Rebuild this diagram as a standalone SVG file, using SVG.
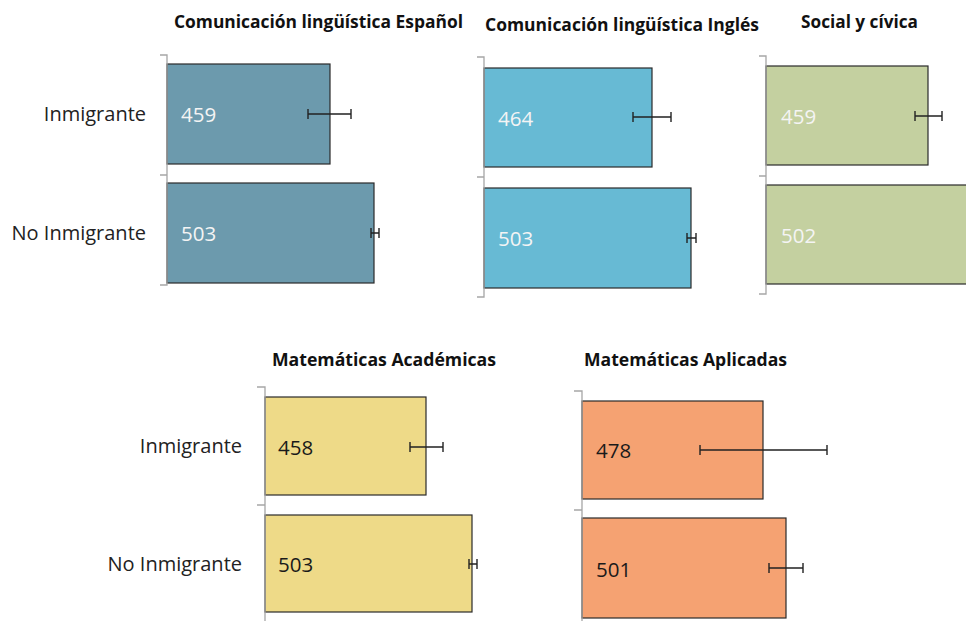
<svg xmlns="http://www.w3.org/2000/svg" width="966" height="621" viewBox="0 0 966 621">
<style>
.title{font-family:"Open Sans","Liberation Sans",sans-serif;font-weight:700;font-size:17.5px;fill:#111}
.cat{font-family:"Open Sans","Liberation Sans",sans-serif;font-size:20px;fill:#222;text-anchor:end}
.val{font-family:"Open Sans","Liberation Sans",sans-serif;font-size:20.5px}
.vl{fill:#f4f4f4}
.vd{fill:#1a1a1a}
.bar{stroke:#2a2a2a;stroke-width:1.2}
.axis{stroke:#a6a6a6;stroke-width:1.3;fill:none}
.err{stroke:#222;stroke-width:1.4;fill:none}
</style>
<rect width="966" height="621" fill="#fff"/>

<g id="labels-top">
<text class="cat" x="146" y="121">Inmigrante</text>
<text class="cat" x="146" y="240">No Inmigrante</text>
</g>
<g id="labels-bottom">
<text class="cat" x="242" y="453">Inmigrante</text>
<text class="cat" x="242" y="571">No Inmigrante</text>
</g>

<g id="chart-espanol">
<text class="title" x="174" y="28" textLength="289" lengthAdjust="spacingAndGlyphs">Comunicación lingüística Español</text>
<rect class="bar" x="167" y="64" width="163" height="100" fill="#6c9aad"/>
<rect class="bar" x="167" y="183" width="207" height="100" fill="#6c9aad"/>
<path class="axis" d="M160 55H167V285H160M160 175H167"/>
<path class="err" d="M308 114H351M308 109V119M351 109V119"/>
<path class="err" d="M371 233H379M371 228V238M379 228V238"/>
<text class="val vl" x="181" y="122">459</text>
<text class="val vl" x="181" y="241">503</text>
</g>

<g id="chart-ingles">
<text class="title" x="485" y="31" textLength="274" lengthAdjust="spacingAndGlyphs">Comunicación lingüística Inglés</text>
<rect class="bar" x="484" y="68" width="168" height="99" fill="#67bad4"/>
<rect class="bar" x="484" y="188" width="207" height="100" fill="#67bad4"/>
<path class="axis" d="M477 57H484V297H477M477 177H484"/>
<path class="err" d="M633 117H671M633 112V122M671 112V122"/>
<path class="err" d="M687 238H696M687 233V243M696 233V243"/>
<text class="val vl" x="498" y="126">464</text>
<text class="val vl" x="498" y="246">503</text>
</g>

<g id="chart-social">
<text class="title" x="801" y="28" textLength="117" lengthAdjust="spacingAndGlyphs">Social y cívica</text>
<rect class="bar" x="766" y="66" width="162" height="99" fill="#c4d0a0"/>
<rect class="bar" x="766" y="185" width="210" height="99" fill="#c4d0a0"/>
<path class="axis" d="M759 56H766V294H759M759 176H766"/>
<path class="err" d="M915 116H942M915 111V121M942 111V121"/>
<text class="val vl" x="781" y="124">459</text>
<text class="val vl" x="781" y="243">502</text>
</g>

<g id="chart-mat-academicas">
<text class="title" x="272" y="366" textLength="224" lengthAdjust="spacingAndGlyphs">Matemáticas Académicas</text>
<rect class="bar" x="265" y="397" width="161" height="98" fill="#eeda88"/>
<rect class="bar" x="265" y="515" width="207" height="97" fill="#eeda88"/>
<path class="axis" d="M257 387H265V621M257 505H265"/>
<path class="err" d="M410 447H443M410 442V452M443 442V452"/>
<path class="err" d="M469 564H477M469 559V569M477 559V569"/>
<text class="val vd" x="278" y="455">458</text>
<text class="val vd" x="278" y="572">503</text>
</g>

<g id="chart-mat-aplicadas">
<text class="title" x="584" y="366" textLength="203" lengthAdjust="spacingAndGlyphs">Matemáticas Aplicadas</text>
<rect class="bar" x="582" y="401" width="181" height="98" fill="#f5a272"/>
<rect class="bar" x="582" y="518" width="204" height="100" fill="#f5a272"/>
<path class="axis" d="M574 391H582V621M574 510H582"/>
<path class="err" d="M700 450H827M700 445V455M827 445V455"/>
<path class="err" d="M769 568H803M769 563V573M803 563V573"/>
<text class="val vd" x="596" y="458">478</text>
<text class="val vd" x="596" y="577">501</text>
</g>
</svg>
